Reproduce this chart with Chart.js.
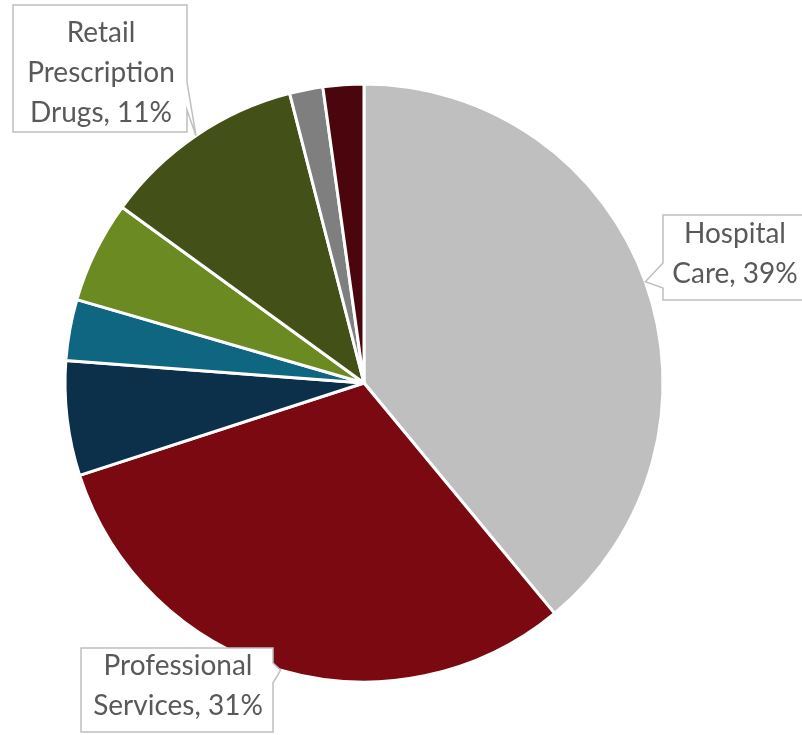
<!DOCTYPE html>
<html>
<head>
<meta charset="utf-8">
<script src="https://cdn.jsdelivr.net/npm/chart.js@4.4.1/dist/chart.umd.min.js"></script>
<style>
    html, body { margin: 0; padding: 0; background: #fff; }
    #wrap { width: 802px; height: 735px; }
</style>
</head>
<body>
<div id="wrap"><canvas id="spendChart" width="802" height="735"></canvas></div>
<script>
// Share of personal health care spending, clockwise from 12 o'clock
const categories = [
    "Hospital Care",
    "Professional Services",
    "Nursing Care Facilities",
    "Home Health Care",
    "Other Health and Personal Care",
    "Retail Prescription Drugs",
    "Durable Medical Equipment",
    "Other Nondurable Products"
];
const shares = [39, 31, 6.2, 3.3, 5.5, 11, 1.8, 2.2];
const sliceColors = [
    "#bfbfbf", "#7a0912", "#0c3049", "#0f6680",
    "#6b8a22", "#435018", "#7f7f7f", "#4a060c"
];

// Callout boxes for the three biggest slices (keyed by slice index)
const callouts = {
    0: { box: [663, 215, 170, 85], side: "left", base: [263, 288], textX: 735, baseline: 243 },
    1: { box: [81, 648, 192, 84], side: "right", base: [663, 683], textX: 178, baseline: 675 },
    5: { box: [13, 5, 174, 127], side: "right", base: [82, 110], textX: 101, baseline: 42 }
};

// "Hospital Care" + 39 -> ["Hospital", "Care, 39%"]
function calloutLines(name, value) {
    const words = name.split(" ");
    words[words.length - 1] += ", " + value + "%";
    return words;
}

const calloutPlugin = {
    id: "callouts",
    afterDatasetsDraw(chart) {
        const ctx = chart.ctx;
        const meta = chart.getDatasetMeta(0);
        ctx.save();
        Object.keys(callouts).forEach(key => {
            const i = Number(key);
            const c = callouts[i];
            const arc = meta.data[i];
            const mid = (arc.startAngle + arc.endAngle) / 2;
            const tipX = arc.x + Math.cos(mid) * arc.outerRadius;
            const tipY = arc.y + Math.sin(mid) * arc.outerRadius;
            const [x, y, w, h] = c.box;

            ctx.beginPath();
            if (c.side === "right") {
                ctx.moveTo(x, y);
                ctx.lineTo(x + w, y);
                ctx.lineTo(x + w, c.base[0]);
                ctx.lineTo(tipX, tipY);
                ctx.lineTo(x + w, c.base[1]);
                ctx.lineTo(x + w, y + h);
                ctx.lineTo(x, y + h);
            } else {
                ctx.moveTo(x, y);
                ctx.lineTo(x + w, y);
                ctx.lineTo(x + w, y + h);
                ctx.lineTo(x, y + h);
                ctx.lineTo(x, c.base[1]);
                ctx.lineTo(tipX, tipY);
                ctx.lineTo(x, c.base[0]);
            }
            ctx.closePath();
            ctx.fillStyle = "#ffffff";
            ctx.fill();
            ctx.strokeStyle = "#bfbfbf";
            ctx.lineWidth = 1.5;
            ctx.stroke();

            ctx.fillStyle = "#595959";
            ctx.font = "28px Lato";
            ctx.textAlign = "center";
            ctx.textBaseline = "alphabetic";
            calloutLines(categories[i], shares[i]).forEach((line, n) => {
                ctx.fillText(line, c.textX, c.baseline + n * 40);
            });
        });
        ctx.restore();
    }
};

new Chart(document.getElementById("spendChart"), {
    type: "pie",
    data: {
        labels: categories,
        datasets: [{
            data: shares,
            backgroundColor: sliceColors,
            borderColor: "#ffffff",
            borderWidth: 3,
            hoverOffset: 0
        }]
    },
    options: {
        responsive: false,
        animation: false,
        radius: 299,
        layout: { padding: { left: 0, right: 74, top: 31, bottom: 0 } },
        plugins: {
            legend: { display: false },
            tooltip: { enabled: false }
        }
    },
    plugins: [calloutPlugin]
});
</script>
</body>
</html>
